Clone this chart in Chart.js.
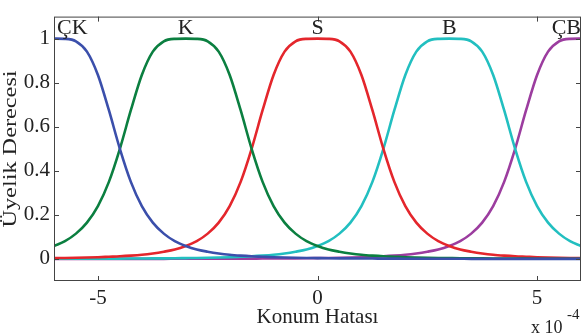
<!DOCTYPE html>
<html>
<head>
<meta charset="utf-8">
<script src="https://cdn.jsdelivr.net/npm/chart.js@4.4.1/dist/chart.umd.min.js"></script>
<style>
html,body{margin:0;padding:0;background:#fff;}
#wrap{width:583px;height:334px;position:relative;}
</style>
</head>
<body>
<div id="wrap"><canvas id="c" width="583" height="334"></canvas></div>
<script>
// x positions (units of 1e-4)
const xValues = [-6,-5.75,-5.5,-5.25,-5,-4.75,-4.5,-4.25,-4,-3.75,-3.5,-3.25,-3,-2.75,-2.5,-2.25,-2,-1.75,-1.5,-1.25,-1,-0.75,-0.5,-0.25,0,0.25,0.5,0.75,1,1.25,1.5,1.75,2,2.25,2.5,2.75,3,3.25,3.5,3.75,4,4.25,4.5,4.75,5,5.25,5.5,5.75,6];
// membership degrees
const cokKucuk = [1.0,0.999,0.988,0.941,0.835,0.675,0.5,0.35,0.24,0.165,0.115,0.081,0.059,0.043,0.033,0.025,0.019,0.015,0.012,0.01,0.008,0.0066,0.0055,0.0046,0.004,0.0034,0.0029,0.0025,0.0022,0.0019,0.0016,0.0014,0.0012,0.0011,0.001,0.0009,0.0008,0.0007,0.0006,0.0006,0.0005,0.0005,0.0004,0.0004,0.0004,0.0003,0.0003,0.0003,0.0003];
const kucuk    = [0.059,0.081,0.115,0.165,0.24,0.35,0.5,0.675,0.835,0.941,0.988,0.999,1.0,0.999,0.988,0.941,0.835,0.675,0.5,0.35,0.24,0.165,0.115,0.081,0.059,0.043,0.033,0.025,0.019,0.015,0.012,0.01,0.008,0.0066,0.0055,0.0046,0.004,0.0034,0.0029,0.0025,0.0022,0.0019,0.0016,0.0014,0.0012,0.0011,0.001,0.0009,0.0008];
const sifir    = [0.004,0.0046,0.0055,0.0066,0.008,0.01,0.012,0.015,0.019,0.025,0.033,0.043,0.059,0.081,0.115,0.165,0.24,0.35,0.5,0.675,0.835,0.941,0.988,0.999,1.0,0.999,0.988,0.941,0.835,0.675,0.5,0.35,0.24,0.165,0.115,0.081,0.059,0.043,0.033,0.025,0.019,0.015,0.012,0.01,0.008,0.0066,0.0055,0.0046,0.004];
const buyuk    = [0.0008,0.0009,0.001,0.0011,0.0012,0.0014,0.0016,0.0019,0.0022,0.0025,0.0029,0.0034,0.004,0.0046,0.0055,0.0066,0.008,0.01,0.012,0.015,0.019,0.025,0.033,0.043,0.059,0.081,0.115,0.165,0.24,0.35,0.5,0.675,0.835,0.941,0.988,0.999,1.0,0.999,0.988,0.941,0.835,0.675,0.5,0.35,0.24,0.165,0.115,0.081,0.059];
const cokBuyuk = [0.0003,0.0003,0.0003,0.0003,0.0004,0.0004,0.0004,0.0005,0.0005,0.0006,0.0006,0.0007,0.0008,0.0009,0.001,0.0011,0.0012,0.0014,0.0016,0.0019,0.0022,0.0025,0.0029,0.0034,0.004,0.0046,0.0055,0.0066,0.008,0.01,0.012,0.015,0.019,0.025,0.033,0.043,0.059,0.081,0.115,0.165,0.24,0.35,0.5,0.675,0.835,0.941,0.988,0.999,1.0];
const seriesNames = ['ÇK','K','S','B','ÇB'];
const seriesCenters = [-6,-3,0,3,6];
const xTicks = [-5,0,5];
const yTicks = [0,0.2,0.4,0.6,0.8,1];
const xTitle = 'Konum Hatası';
const yTitle = 'Üyelik Derecesi';

const colors = ['#3b4fab','#0b7f40','#e4262c','#22bfc0','#9c3d9f'];
const allSeries = [cokKucuk,kucuk,sifir,buyuk,cokBuyuk];
const FONT = "'Liberation Serif','Times New Roman',serif";

const datasets = allSeries.map((s,i)=>({
  label: seriesNames[i],
  data: xValues.map((x,j)=>({x:x,y:s[j]})),
  borderColor: colors[i],
  borderWidth: 2.6,
  pointRadius: 0,
  fill: false,
  cubicInterpolationMode: 'monotone'
}));

const decor = {
  id:'decor',
  afterDatasetsDraw(chart){
    const {ctx, chartArea:a, scales:{x,y}} = chart;
    ctx.save();
    // frame
    ctx.strokeStyle = '#444';
    ctx.lineWidth = 1;
    ctx.strokeRect(a.left+0.5, a.top+0.5, a.right-a.left-1, a.bottom-a.top-1);
    // inward ticks
    ctx.beginPath();
    xTicks.forEach(v=>{
      const px = Math.round(x.getPixelForValue(v))+0.5;
      ctx.moveTo(px,a.bottom); ctx.lineTo(px,a.bottom-5);
      ctx.moveTo(px,a.top); ctx.lineTo(px,a.top+5);
    });
    yTicks.forEach(v=>{
      const py = Math.round(y.getPixelForValue(v))+0.5;
      ctx.moveTo(a.left,py); ctx.lineTo(a.left+5,py);
      ctx.moveTo(a.right,py); ctx.lineTo(a.right-5,py);
    });
    ctx.stroke();
    ctx.fillStyle = '#222';
    // curve names
    ctx.font = '22px ' + FONT;
    ctx.textBaseline = 'alphabetic';
    seriesNames.forEach((n,i)=>{
      let px = x.getPixelForValue(seriesCenters[i]);
      if(i===0){ctx.textAlign='left'; px = a.left+3;}
      else if(i===seriesNames.length-1){ctx.textAlign='right'; px = a.right;}
      else ctx.textAlign='center';
      ctx.fillText(n, px, a.top+17);
    });
    // x title
    ctx.font = '21px ' + FONT;
    ctx.textAlign = 'center';
    ctx.fillText(xTitle, (a.left+a.right)/2, 323);
    // y title (stretched along its length like the reference)
    ctx.save();
    ctx.translate(11, 149);
    ctx.rotate(-Math.PI/2);
    ctx.scale(1.35, 1);
    ctx.font = '18px ' + FONT;
    ctx.textAlign = 'center';
    ctx.textBaseline = 'middle';
    ctx.fillText(yTitle, 0, 0);
    ctx.restore();
    // exponent
    ctx.textAlign='left';
    ctx.textBaseline = 'alphabetic';
    ctx.font = '18px ' + FONT;
    ctx.fillText('x 10', 531, 333);
    ctx.font = '15px ' + FONT;
    ctx.fillText('-4', 567, 319);
    ctx.restore();
  }
};

new Chart(document.getElementById('c'), {
  type:'line',
  data:{datasets},
  options:{
    responsive:false,
    animation:false,
    devicePixelRatio:1,
    layout:{padding:{top:5,right:2,left:0,bottom:0}},
    plugins:{legend:{display:false},tooltip:{enabled:false}},
    scales:{
      x:{
        type:'linear', min:-6, max:6,
        afterFit(s){ s.height = 53; },
        afterBuildTicks(s){ s.ticks = xTicks.map(v=>({value:v})); },
        grid:{display:false, drawTicks:false},
        border:{display:false},
        ticks:{padding:5, color:'#222', font:{family:FONT,size:21}, maxRotation:0, autoSkip:false,
               callback:v=>String(v)},
        title:{display:false}
      },
      y:{
        type:'linear', min:-0.1, max:1.1,
        afterFit(s){ s.width = 54; },
        afterBuildTicks(s){ s.ticks = yTicks.map(v=>({value:v})); },
        grid:{display:false, drawTicks:false},
        border:{display:false},
        ticks:{padding:4, color:'#222', font:{family:FONT,size:21}, autoSkip:false,
               callback:v=>String(Math.round(v*10)/10)},
        title:{display:false}
      }
    }
  },
  plugins:[decor]
});
</script>
</body>
</html>
